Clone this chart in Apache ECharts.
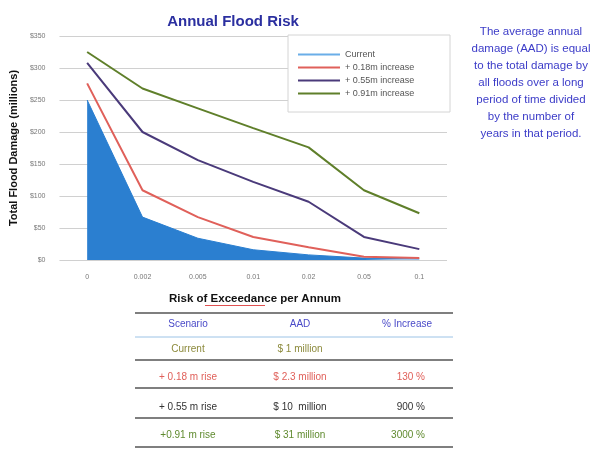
<!DOCTYPE html>
<html>
<head>
<meta charset="utf-8">
<script src="https://cdn.jsdelivr.net/npm/echarts@6/dist/echarts.min.js"></script>
<style>
  html, body { margin: 0; padding: 0; background: #ffffff; }
  #chart { width: 595px; height: 452px; }
</style>
</head>
<body>
<div id="chart"></div>
<script>
// Annual exceedance probabilities (x categories)
const categories = ['0', '0.002', '0.005', '0.01', '0.02', '0.05', '0.1'];

// Total flood damage in $ millions for each scenario
const currentDamage = [250, 67, 34, 16, 8, 3, 1.5];
const rise018 = [276, 109, 67, 36, 20, 5, 3];
const rise055 = [308, 200, 156, 122, 91, 36, 17];
const rise091 = [325, 268, 237, 206, 176, 109, 73];

const seriesNames = ['Current', '+ 0.18m increase', '+ 0.55m increase', '+ 0.91m increase'];

// Summary table rows
const tableHeader = ['Scenario', 'AAD', '% Increase'];
const scenarioLabels = ['Current', '+ 0.18 m rise', '+ 0.55 m rise', '+0.91 m rise'];
const aadValues = ['$ 1 million', '$ 2.3 million', '$ 10  million', '$ 31 million'];
const pctIncrease = ['', '130 %', '900 %', '3000 %'];

const noteLines = [
  'The average annual',
  'damage (AAD) is equal',
  'to the total damage by',
  'all floods over a long',
  'period of time divided',
  'by the number of',
  'years in that period.'
];

const FONT = '"Liberation Sans", Arial, sans-serif';
const rowColors = ['#8c8a3c', '#e0605a', '#333333', '#5f8a2e'];

const chart = echarts.init(document.getElementById('chart'));

// Table drawn with graphic primitives
const graphics = [];
const hLine = (y, color, w) => graphics.push({
  type: 'line', shape: { x1: 135, y1: y, x2: 453, y2: y },
  style: { stroke: color, lineWidth: w }, z: 10
});
hLine(313, '#555555', 1.5);
hLine(337, '#9cc3e6', 1);
hLine(360, '#555555', 1.5);
hLine(388, '#555555', 1.5);
hLine(418, '#555555', 1.5);
hLine(447, '#555555', 1.5);

const headerY = 324;
const colX = [188, 300, 407];
tableHeader.forEach((t, i) => graphics.push({
  type: 'text', x: colX[i], y: headerY,
  style: { text: t, fill: '#4a4ac8', font: '10px ' + FONT, textAlign: 'center', textVerticalAlign: 'middle' }
}));
const rowY = [349, 377, 407, 435];
scenarioLabels.forEach((t, i) => {
  graphics.push({ type: 'text', x: colX[0], y: rowY[i],
    style: { text: t, fill: rowColors[i], font: '10px ' + FONT, textAlign: 'center', textVerticalAlign: 'middle' } });
  graphics.push({ type: 'text', x: colX[1], y: rowY[i],
    style: { text: aadValues[i], fill: rowColors[i], font: '10px ' + FONT, textAlign: 'center', textVerticalAlign: 'middle' } });
  if (pctIncrease[i]) {
    graphics.push({ type: 'text', x: 425, y: rowY[i],
      style: { text: pctIncrease[i], fill: rowColors[i], font: '10px ' + FONT, textAlign: 'right', textVerticalAlign: 'middle' } });
  }
});

// X axis title with its underline mark
graphics.push({ type: 'text', x: 255, y: 299,
  style: { text: 'Risk of Exceedance per Annum', fill: '#111', font: 'bold 11.5px ' + FONT, textAlign: 'center', textVerticalAlign: 'middle' } });
graphics.push({ type: 'line', shape: { x1: 205, y1: 305.5, x2: 265, y2: 305.5 },
  style: { stroke: '#e05050', lineWidth: 1 } });

// Note text on the right
noteLines.forEach((t, i) => graphics.push({
  type: 'text', x: 531, y: 32 + i * 17,
  style: { text: t, fill: '#3c3cc8', font: '11.5px ' + FONT, textAlign: 'center', textVerticalAlign: 'middle' }
}));

// Legend backing box
graphics.push({ type: 'rect', shape: { x: 288, y: 35, width: 162, height: 77 },
  style: { fill: '#ffffff', stroke: '#d4d4d4', lineWidth: 1 }, z: 5 });

chart.setOption({
  animation: false,
  backgroundColor: '#ffffff',
  title: {
    text: 'Annual Flood Risk',
    left: 228, top: 9,
    textAlign: 'center',
    textStyle: { color: '#2b2fa0', fontSize: 15, fontWeight: 'bold', fontFamily: FONT }
  },
  grid: { left: 58, right: 148, top: 36, bottom: 192 },
  legend: {
    orient: 'vertical',
    left: 293, top: 45,
    z: 20,
    icon: 'rect',
    itemWidth: 42, itemHeight: 2,
    itemGap: 4,
    textStyle: { fontSize: 9, color: '#555', fontFamily: FONT },
    data: [
      { name: seriesNames[0], itemStyle: { color: '#6aaee8' } },
      { name: seriesNames[1], itemStyle: { color: '#e0605a' } },
      { name: seriesNames[2], itemStyle: { color: '#4a3a7a' } },
      { name: seriesNames[3], itemStyle: { color: '#5f7f2a' } }
    ]
  },
  xAxis: {
    type: 'category',
    data: categories,
    boundaryGap: true,
    axisLine: { show: false },
    axisTick: { show: false },
    axisLabel: { fontSize: 7, color: '#777', margin: 14, fontFamily: FONT }
  },
  yAxis: {
    type: 'value',
    min: 0, max: 350, interval: 50,
    name: 'Total Flood Damage (millions)',
    nameLocation: 'middle',
    nameGap: 40,
    nameTextStyle: { fontSize: 11, fontWeight: 'bold', color: '#111', fontFamily: FONT },
    axisLabel: { fontSize: 7, color: '#777', margin: 14, fontFamily: FONT, formatter: v => '$' + v },
    splitLine: { lineStyle: { color: '#d0d0d0', width: 1 } }
  },
  series: [
    {
      name: seriesNames[0], type: 'line', data: currentDamage,
      symbol: 'none', z: 2,
      itemStyle: { color: '#6aaee8' },
      lineStyle: { color: '#2b7fd0', width: 1 },
      areaStyle: { color: '#2b7fd0', opacity: 1 }
    },
    {
      name: seriesNames[1], type: 'line', data: rise018, symbol: 'none', z: 3,
      itemStyle: { color: '#e0605a' }, lineStyle: { color: '#e0605a', width: 2 }
    },
    {
      name: seriesNames[2], type: 'line', data: rise055, symbol: 'none', z: 3,
      itemStyle: { color: '#4a3a7a' }, lineStyle: { color: '#4a3a7a', width: 2 }
    },
    {
      name: seriesNames[3], type: 'line', data: rise091, symbol: 'none', z: 3,
      itemStyle: { color: '#5f7f2a' }, lineStyle: { color: '#5f7f2a', width: 2 }
    }
  ],
  graphic: graphics
});
</script>
</body>
</html>
